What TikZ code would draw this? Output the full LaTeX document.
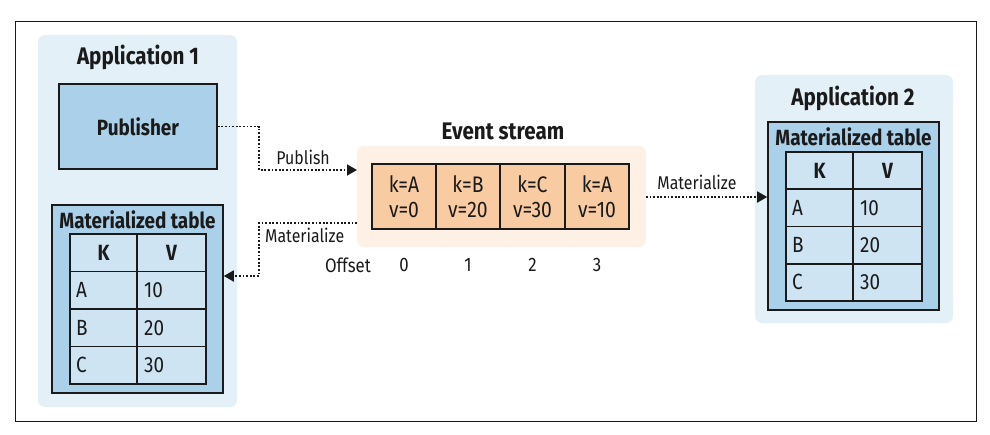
\documentclass[tikz,border=0pt]{standalone}
\usepackage{fontspec}
\setmainfont[FakeStretch=0.86]{Fira Sans}
\usetikzlibrary{arrows.meta,positioning}
\definecolor{appbg}{HTML}{E4F0F8}
\definecolor{boxblue}{HTML}{ABD0EA}
\definecolor{cellblue}{HTML}{CFE4F3}
\definecolor{evbg}{HTML}{FEF0E4}
\definecolor{evcell}{HTML}{F9CBA3}
\definecolor{ink}{HTML}{1A1A1A}
\tikzset{
  appbox/.style={fill=appbg, rounded corners=7pt, draw=none},
  title/.style={font=\fontsize{24}{26}\selectfont\bfseries, text=ink, inner sep=0pt},
  pubbox/.style={fill=boxblue, draw=ink, line width=1.6pt},
  tblbox/.style={fill=boxblue, draw=ink, line width=1.6pt},
  tbltitle/.style={font=\fontsize{22}{23}\selectfont\bfseries, text=ink, inner sep=0pt},
  cell/.style={fill=cellblue, draw=ink, line width=1.6pt},
  celltxt/.style={font=\fontsize{22}{24}\selectfont, text=ink, inner sep=0pt},
  cellhd/.style={font=\fontsize{22}{24}\selectfont\bfseries, text=ink, inner sep=0pt},
  evbox/.style={fill=evbg, rounded corners=7pt, draw=none},
  evc/.style={fill=evcell, draw=ink, line width=1.6pt, minimum width=64pt, minimum height=65pt, inner sep=0pt, align=center, font=\fontsize{22.5}{25}\selectfont, text=ink},
  lbl/.style={font=\fontsize{18.5}{20}\selectfont, text=ink, inner sep=0pt},
  offs/.style={font=\fontsize{19.5}{21}\selectfont, text=ink, inner sep=0pt},
  conn/.style={draw=ink, line width=1.8pt, dash pattern=on 1.8pt off 1.8pt, -{Triangle[length=10pt,width=11pt]}},
}
\begin{document}
\begin{tikzpicture}[x=1pt,y=-1pt]
\useasboundingbox (0,0) rectangle (990,434);
\fill[white] (0,0) rectangle (990,434);
% outer frame
\draw[line width=1pt, draw=ink] (15,21.5) rectangle (976,421.5);

% Application 1
\path[appbox] (38,35) rectangle (237,407);
\node[title] (app1) at (138,57) {Application 1};
\node[pubbox, minimum width=158pt, minimum height=85pt, inner sep=0pt, font=\fontsize{22}{24}\selectfont\bfseries, text=ink] (pub) at (138,126.5) {Publisher};
\node[tblbox, minimum width=171pt, minimum height=188pt, inner sep=0pt] (mt1) at (137.5,299) {};
\node[tbltitle] (mt1t) at (137.5,220) {Materialized table};
% table 1 cells
\foreach \i in {0,1,2,3}{
  \pgfmathsetmacro\yt{234+37.5*\i}
  \pgfmathsetmacro\yb{234+37.5*(\i+1)}
  \draw[cell] (70,\yt) rectangle (137,\yb);
  \draw[cell] (137,\yt) rectangle (206,\yb);
}
\node[cellhd] (t1k) at (103.5,252.75) {K};
\node[cellhd] (t1v) at (171.5,252.75) {V};
\node[celltxt, anchor=west] (t1a) at (76,290.25) {A};
\node[celltxt, anchor=west] (t1a2) at (144,290.25) {10};
\node[celltxt, anchor=west] (t1b) at (76,327.75) {B};
\node[celltxt, anchor=west] (t1b2) at (144,327.75) {20};
\node[celltxt, anchor=west] (t1c) at (76,365.25) {C};
\node[celltxt, anchor=west] (t1c2) at (144,365.25) {30};

% Event stream
\path[evbox] (357,146) rectangle (646,247);
\node[title] (evt) at (503,131) {Event stream};
\node[evc] (e0) at (404,196.5) {k=A\\v=0};
\node[evc] (e1) at (468,196.5) {k=B\\v=20};
\node[evc] (e2) at (532.5,196.5) {k=C\\v=30};
\node[evc] (e3) at (597,196.5) {k=A\\v=10};
\coordinate (evl1) at (357,170);
\coordinate (evl2) at (357,223);
\coordinate (evr) at (646,197);
\node[offs, anchor=east] (off) at (371,265) {Offset};
\node[offs] (o0) at (404,265) {0};
\node[offs] (o1) at (468,265) {1};
\node[offs] (o2) at (532.5,265) {2};
\node[offs] (o3) at (597,265) {3};

% Application 2
\path[appbox] (755,75) rectangle (953,323);
\node[title] (app2) at (853,98) {Application 2};
\node[tblbox, minimum width=171pt, minimum height=188pt, inner sep=0pt] (mt2) at (853.5,216) {};
\node[tbltitle] (mt2t) at (853.5,137) {Materialized table};
\foreach \i in {0,1,2,3}{
  \pgfmathsetmacro\yt{152+37.25*\i}
  \pgfmathsetmacro\yb{152+37.25*(\i+1)}
  \draw[cell] (786,\yt) rectangle (853,\yb);
  \draw[cell] (853,\yt) rectangle (922,\yb);
}
\node[cellhd] (t2k) at (819.5,170.6) {K};
\node[cellhd] (t2v) at (887.5,170.6) {V};
\node[celltxt, anchor=west] (t2a) at (792,207.9) {A};
\node[celltxt, anchor=west] (t2a2) at (860,207.9) {10};
\node[celltxt, anchor=west] (t2b) at (792,245.1) {B};
\node[celltxt, anchor=west] (t2b2) at (860,245.1) {20};
\node[celltxt, anchor=west] (t2c) at (792,282.4) {C};
\node[celltxt, anchor=west] (t2c2) at (860,282.4) {30};

% connectors
\draw[conn] (pub.east) -| (259,170) -- node[lbl, above=4pt, pos=0.45] (publbl) {Publish} (evl1);
\draw[conn] (evl2) -- (259,223) |- (mt1.east |- 0,276);
\node[lbl, anchor=north west] (matl1) at (265,228) {Materialize};
\draw[conn] (evr) -- node[lbl, above=6pt, pos=0.42] (matl2) {Materialize} (mt2.west |- evr);
\end{tikzpicture}
\end{document}
